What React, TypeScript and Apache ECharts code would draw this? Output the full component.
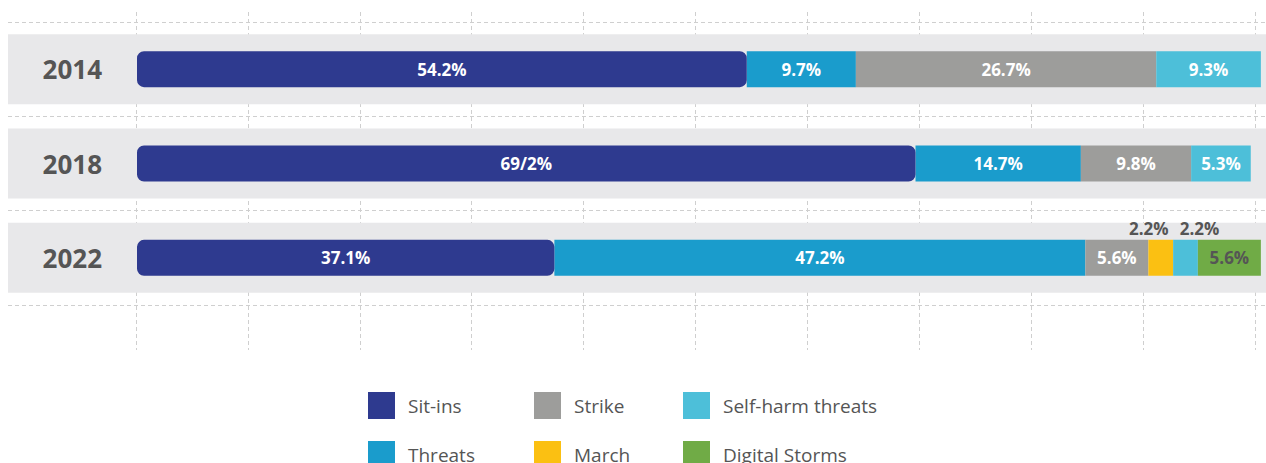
import React, { useEffect, useRef } from "react";
import * as echarts from "echarts";

const categories = ["2014", "2018", "2022"];
const sitIns = [54.2, 69.2, 37.1];
const sitInsLabels = ["54.2%", "69/2%", "37.1%"];
const threats = [9.7, 14.7, 47.2];
const strike = [26.7, 9.8, 5.6];
const march = [null, null, 2.2];
const selfHarm = [9.3, 5.3, 2.2];
const digital = [null, null, 5.6];
const bandValues = [1, 1, 1];

const FONT = "'Open Sans', 'Noto Sans', sans-serif";
const COLORS = {
  sit: "#2e3a8f",
  threats: "#1a9ccc",
  strike: "#9d9d9b",
  march: "#fbc012",
  self: "#4dbfd9",
  digital: "#70ab46",
};

const baseLabel = {
  show: true,
  position: "inside",
  color: "#ffffff",
  fontFamily: FONT,
  fontWeight: "bold",
  fontSize: 17,
  formatter: (p: any) => `${p.value}%`,
};

function App() {
  const ref = useRef<HTMLDivElement>(null);
  useEffect(() => {
    if (!ref.current) return;
    const chart = echarts.init(ref.current, undefined, { renderer: "svg" });
    const barCommon = {
      type: "bar",
      stack: "total",
      xAxisIndex: 2,
      yAxisIndex: 2,
      barWidth: 36,
      z: 3,
    };
    const mk = (vals: (number | null)[], extra?: (i: number) => any) =>
      vals.map((v, i) => (v == null ? "-" : { value: v, ...(extra ? extra(i) : {}) }));

    const legendItem = (name: string, left: number, top: number) => ({
      data: [name],
      left,
      top,
      padding: 0,
      itemWidth: 27,
      itemHeight: 27,
      icon: "rect",
      selectedMode: false,
      textStyle: {
        fontFamily: FONT,
        fontSize: 19,
        color: "#555555",
        padding: [0, 0, 0, 8],
      },
    });

    const option: any = {
      animation: false,
      grid: [
        { left: 136, right: 11, top: 12, bottom: 113 },
        { left: 8, right: 0, top: 22, bottom: 158 },
        { left: 137, right: 4, top: 22, bottom: 158 },
      ],
      xAxis: [
        {
          gridIndex: 0,
          type: "value",
          min: 0,
          max: 100,
          interval: 10,
          axisLine: { show: false },
          axisTick: { show: false },
          axisLabel: { show: false },
          splitLine: { show: true, lineStyle: { type: [4, 3], color: "#cfcfcf", width: 1 } },
        },
        { gridIndex: 1, type: "value", min: 0, max: 1, show: false },
        { gridIndex: 2, type: "value", min: 0, max: 100, show: false },
      ],
      yAxis: [
        { gridIndex: 0, type: "value", show: false },
        {
          gridIndex: 1,
          type: "category",
          data: categories,
          inverse: true,
          axisLine: { show: false },
          axisTick: { show: false },
          axisLabel: { show: false },
          splitLine: { show: true, lineStyle: { type: [4, 3], color: "#cfcfcf", width: 1 } },
        },
        {
          gridIndex: 2,
          type: "category",
          data: categories,
          inverse: true,
          z: 10,
          axisLine: { show: false },
          axisTick: { show: false },
          splitLine: { show: false },
          axisLabel: {
            fontFamily: FONT,
            fontSize: 26,
            fontWeight: "bold",
            color: "#555555",
            margin: 35,
          },
        },
      ],
      legend: [
        legendItem("Sit-ins", 368, 392),
        legendItem("Strike", 534, 392),
        legendItem("Self-harm threats", 683, 392),
        legendItem("Threats", 368, 441),
        legendItem("March", 534, 441),
        legendItem("Digital Storms", 683, 441),
      ],
      series: [
        {
          type: "bar",
          name: "band",
          xAxisIndex: 1,
          yAxisIndex: 1,
          data: bandValues,
          barWidth: 70,
          silent: true,
          z: 1,
          itemStyle: { color: "#e8e8ea" },
        },
        {
          ...barCommon,
          name: "Sit-ins",
          itemStyle: { color: COLORS.sit, borderRadius: 7 },
          label: { ...baseLabel, formatter: (p: any) => sitInsLabels[p.dataIndex] },
          data: mk(sitIns),
          z: 4,
        },
        {
          ...barCommon,
          name: "Threats",
          itemStyle: { color: COLORS.threats },
          label: baseLabel,
          data: mk(threats),
        },
        {
          ...barCommon,
          name: "Strike",
          itemStyle: { color: COLORS.strike },
          label: baseLabel,
          data: mk(strike),
        },
        {
          ...barCommon,
          name: "March",
          itemStyle: { color: COLORS.march },
          label: {
            ...baseLabel,
            position: "top",
            distance: 3,
            color: "#555555",
            offset: [-12, 0],
          },
          data: mk(march),
        },
        {
          ...barCommon,
          name: "Self-harm threats",
          itemStyle: { color: COLORS.self },
          label: baseLabel,
          data: mk(selfHarm, (i) =>
            i === 2
              ? {
                  label: {
                    position: "top",
                    distance: 3,
                    color: "#555555",
                    offset: [14, 0],
                  },
                }
              : {}
          ),
        },
        {
          ...barCommon,
          name: "Digital Storms",
          itemStyle: { color: COLORS.digital },
          label: { ...baseLabel, color: "#555555" },
          data: mk(digital),
        },
      ],
    };
    chart.setOption(option);
    return () => chart.dispose();
  }, []);
  return (
    <div
      ref={ref}
      style={{ position: "absolute", left: 0, top: 0, width: 1266, height: 463 }}
    />
  );
}

export default App;
